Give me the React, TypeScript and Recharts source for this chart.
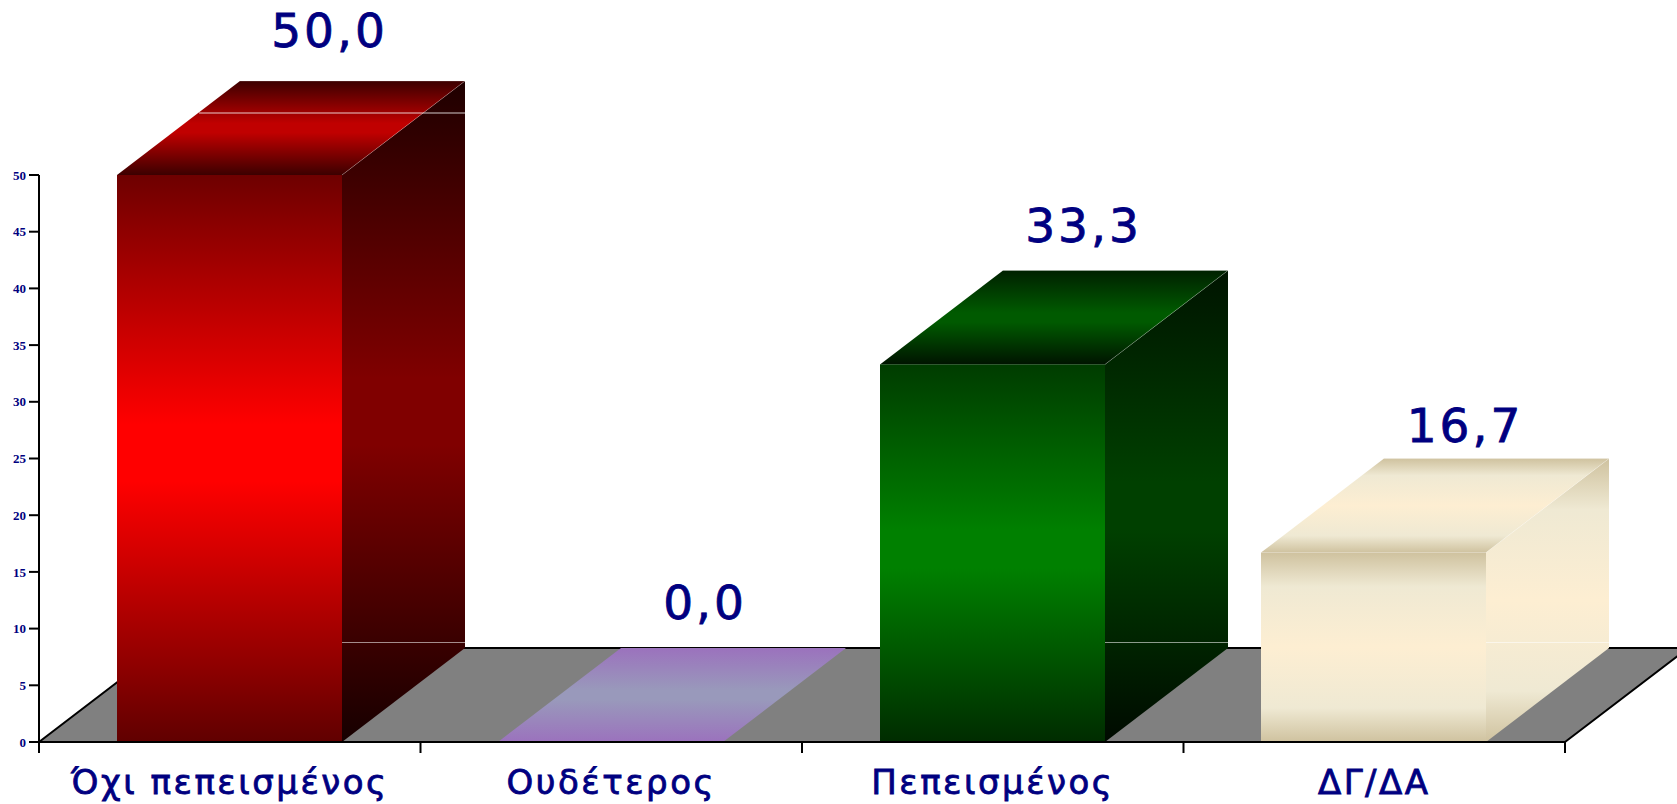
import React from 'react';
import { Bar, BarChart, LabelList, XAxis, YAxis, usePlotArea } from 'recharts';

const categories = ['Όχι πεπεισμένος', 'Ουδέτερος', 'Πεπεισμένος', 'ΔΓ/ΔΑ'];
const values = [50, 0, 33.3, 16.7];
const yTicks = [0, 5, 10, 15, 20, 25, 30, 35, 40, 45, 50];

// face colours per category, top to bottom
const creamStops = ['#cfc29f', '#efe9d3', '#fdeed2', '#efe9d3', '#cfc29f'];
const frontColors = [
  ['#6e0000', '#ff0000', '#600000'],
  ['#9b72bd', '#9999bb', '#9b72bd'],
  ['#003c00', '#008000', '#002c00'],
  creamStops,
];
const sideColors = [
  ['#1e0000', '#800000', '#160000'],
  ['#9b72bd', '#9999bb', '#9b72bd'],
  ['#001400', '#004000', '#000a00'],
  creamStops,
];
const topColors = [
  ['#3c0000', '#c00000', '#3c0000'],
  ['#9b72bd', '#9999bb', '#9b72bd'],
  ['#002000', '#005a00', '#001400'],
  creamStops,
];
// where each value label floats relative to its box
const labelLift = [34, 29, 28, 17];
const labelShift = [100, 94, 91, 91];

const data = categories.map((name, i) => ({ name, value: values[i] }));

const DEPTH_X = 123;
const DEPTH_Y = 94;
const NAVY = '#000080';
const FONT = '"DejaVu Sans", sans-serif';

// three colours get a flat band around the middle, as the original shading has
const Gradient = ({ id, stops, mid }: { id: string; stops: string[]; mid: number }) => {
  const colors = stops.length === 5 ? stops : [stops[0], stops[1], stops[1], stops[2]];
  const offsets = stops.length === 5 ? [0, 18, 50, 82, 100] : [0, mid - 5, mid + 5, 100];
  return (
    <linearGradient id={id} x1="0" y1="0" x2="0" y2="1">
      {colors.map((c, i) => (
        <stop key={i} offset={`${offsets[i]}%`} stopColor={c} />
      ))}
    </linearGradient>
  );
};

// grey floor and the tick marks between categories
const Floor = () => {
  const plot = usePlotArea();
  if (!plot) return null;
  const { x, y, width, height } = plot;
  const base = y + height;
  const band = width / categories.length;
  return (
    <g>
      <polygon
        points={`${x},${base} ${x + DEPTH_X},${base - DEPTH_Y} ${x + width + DEPTH_X},${base - DEPTH_Y} ${x + width},${base}`}
        fill="#808080"
      />
      <polyline
        points={`${x},${base} ${x + DEPTH_X},${base - DEPTH_Y} ${x + width + DEPTH_X},${base - DEPTH_Y} ${x + width},${base}`}
        fill="none"
        stroke="#000"
        strokeWidth={2}
      />
      {[...categories, ''].map((_, i) => (
        <line key={i} x1={x + band * i} x2={x + band * i} y1={base} y2={base + 11} stroke="#000" strokeWidth={2} />
      ))}
    </g>
  );
};

const Box = (props: any) => {
  const { y, width, height, index } = props;
  const x = Math.round(props.x - 0.5);
  const right = x + width;
  const bottom = y + height;
  const edge = 'rgba(255,255,255,0.22)';
  return (
    <g>
      <polygon
        points={`${right},${y} ${right + DEPTH_X},${y - DEPTH_Y} ${right + DEPTH_X},${bottom - DEPTH_Y} ${right},${bottom}`}
        fill={`url(#side${index})`}
      />
      <polygon
        points={`${x},${y} ${x + DEPTH_X},${y - DEPTH_Y} ${right + DEPTH_X},${y - DEPTH_Y} ${right},${y}`}
        fill={`url(#top${index})`}
      />
      {height > 0 && <rect x={x} y={y} width={width} height={height} fill={`url(#front${index})`} />}
      {height > 0 && (
        <polyline
          points={`${x + DEPTH_X},${y - DEPTH_Y} ${right + DEPTH_X},${y - DEPTH_Y} ${right},${y}`}
          fill="none"
          stroke={edge}
        />
      )}
      {height > 0 && <line x1={right} x2={right + DEPTH_X} y1={bottom - 99.5} y2={bottom - 99.5} stroke="rgba(255,255,255,0.55)" />}
      {index === 0 && <line x1={x + 82} x2={right + DEPTH_X} y1={y - 62} y2={y - 62} stroke="rgba(255,255,255,0.8)" />}
    </g>
  );
};

const ValueLabel = (props: any) => {
  const { viewBox, value, index } = props;
  const { x, y, width } = viewBox;
  return (
    <text
      x={x + width / 2 + labelShift[index]}
      y={y - DEPTH_Y - labelLift[index]}
      textAnchor="middle"
      fontFamily={FONT}
      fontSize={47}
      letterSpacing={3}
      stroke={NAVY}
      strokeWidth={0.8}
      fill={NAVY}
    >
      {Number(value).toFixed(1).replace('.', ',')}
    </text>
  );
};

const App = () => {
  return (
    <div style={{ position: 'absolute', left: 0, top: 0, width: 1677, height: 804, overflow: 'hidden' }}>
      <BarChart
        width={1677}
        height={804}
        data={data}
        margin={{ top: 175, right: 112, bottom: 0, left: 0 }}
        barCategoryGap={0}
        style={{ overflow: 'hidden' }}
      >
        <defs>
          {categories.map((_, i) => (
            <React.Fragment key={i}>
              <Gradient id={`front${i}`} stops={frontColors[i]} mid={49} />
              <Gradient id={`side${i}`} stops={sideColors[i]} mid={50} />
              <Gradient id={`top${i}`} stops={topColors[i]} mid={50} />
            </React.Fragment>
          ))}
        </defs>
        <Floor />
        <XAxis
          dataKey="name"
          height={62}
          interval={0}
          tickLine={false}
          axisLine={{ stroke: '#000', strokeWidth: 2 }}
          tick={{ fill: NAVY, stroke: NAVY, strokeWidth: 0.8, fontFamily: FONT, fontSize: 34, letterSpacing: 2.5 }}
          tickMargin={22}
        />
        <YAxis
          width={39}
          domain={[0, 50]}
          ticks={yTicks}
          tickSize={10}
          tickMargin={3}
          axisLine={{ stroke: '#000', strokeWidth: 2 }}
          tickLine={{ stroke: '#000', strokeWidth: 2 }}
          tick={{ fill: NAVY, fontFamily: '"Liberation Serif", serif', fontWeight: 'bold', fontSize: 13 }}
        />
        <Bar dataKey="value" barSize={225} shape={Box} isAnimationActive={false}>
          <LabelList dataKey="value" content={ValueLabel} />
        </Bar>
      </BarChart>
    </div>
  );
};

export default App;
